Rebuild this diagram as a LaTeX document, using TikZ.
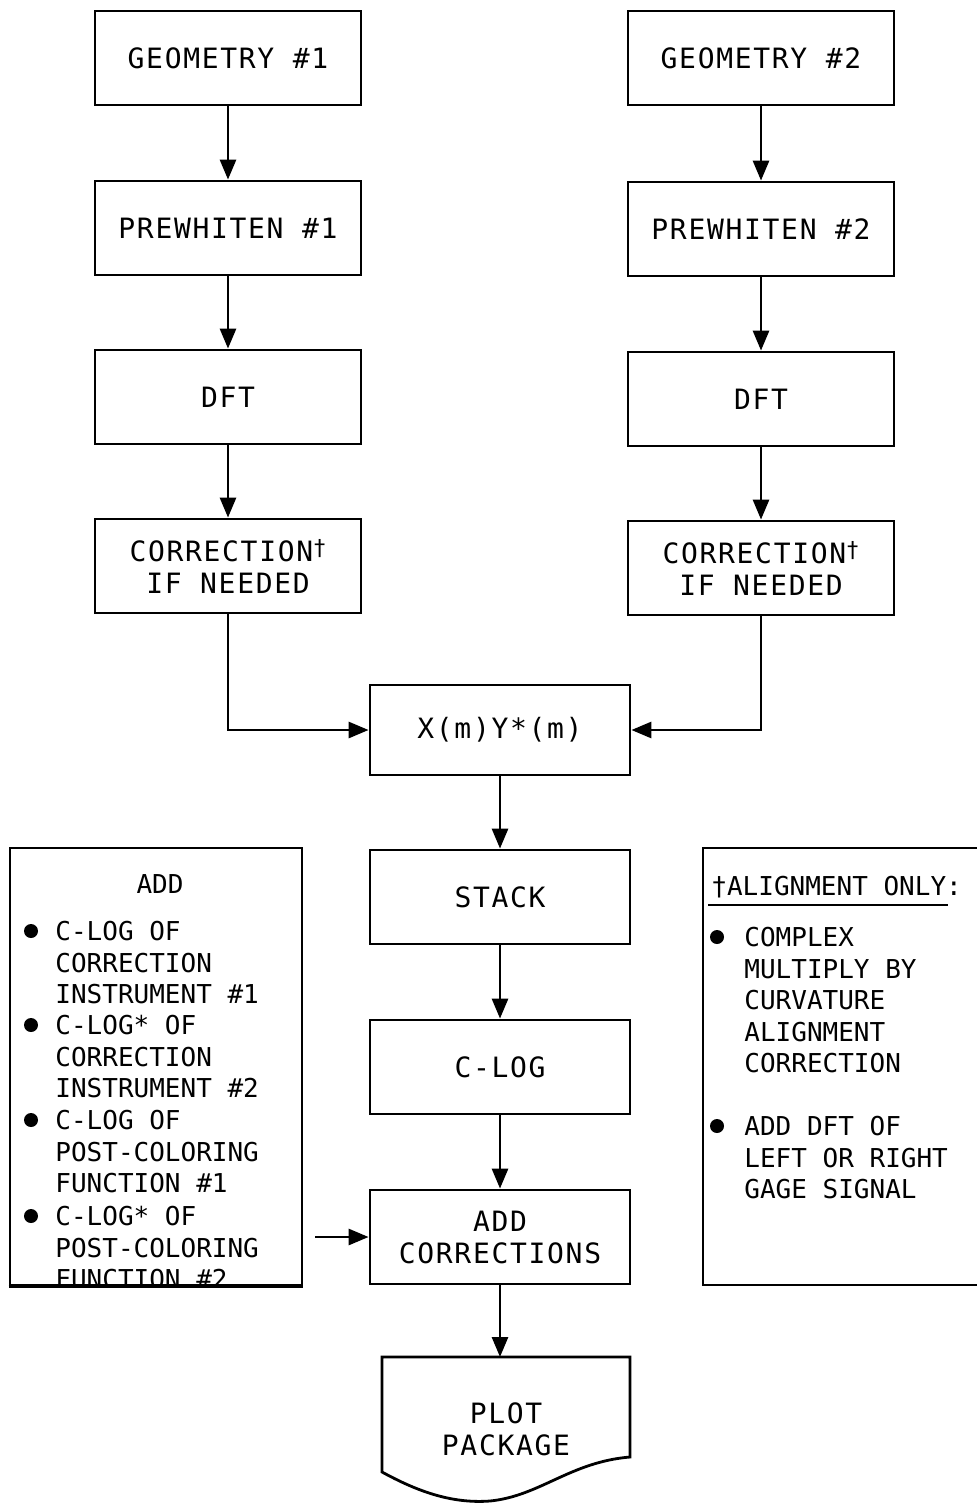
\documentclass[tikz,border=0pt]{standalone}
\usepackage{fontspec}
\usetikzlibrary{arrows.meta,positioning}
\newfontfamily\boxfont{DejaVu Sans Mono}[LetterSpace=6]
\newfontfamily\notefont{DejaVu Sans Mono}
\def\dg{\raisebox{3pt}{\fontsize{11}{11}\selectfont †}}

\begin{document}
\begin{tikzpicture}
[x=0.5pt,y=-0.5pt,
 blk/.style={draw,line width=1.4pt,minimum width=133pt,minimum height=47pt,align=center,font=\boxfont\fontsize{14}{16}\selectfont},
 mid/.style={blk,minimum width=130pt},
 side/.style={draw,line width=1.4pt,minimum height=218.5pt},
 note/.style={inner sep=0pt,align=left,anchor=north west,font=\notefont\fontsize{13}{15.75}\selectfont},
 arr/.style={line width=1.4pt,-{Triangle[length=10pt,width=8pt]}}]
\useasboundingbox (0,0) rectangle (976,1504);
% the two input chains
\node[blk] (g1) at (228,58) {GEOMETRY \#1};
\node[blk] (g2) at (761,58) {GEOMETRY \#2};
\node[blk] (pw1) at (228,228) {PREWHITEN \#1};
\node[blk] (pw2) at (761,229) {PREWHITEN \#2};
\node[blk] (dft1) at (228,397) {DFT};
\node[blk] (dft2) at (761,399) {DFT};
\node[blk] (cor1) at (228,566) {CORRECTION\dg\\IF NEEDED};
\node[blk] (cor2) at (761,568) {CORRECTION\dg\\IF NEEDED};
% middle column
\node[mid,minimum height=45pt] (xy) at (500,730) {X(m)Y*(m)};
\node[mid] (stack) at (500,897) {STACK};
\node[mid] (clog) at (500,1067) {C-LOG};
\node[mid] (addc) at (500,1237) {ADD\\CORRECTIONS};
\coordinate (plottop) at (500,1357);
\node[font=\boxfont\fontsize{14}{16}\selectfont,align=center] (plot) at (506,1429) {PLOT\\PACKAGE};
\draw[line width=1.4pt] (382,1357) -- (630,1357) -- (630,1457)
  .. controls (570,1462) and (540,1496) .. (490,1501)
  .. controls (450,1504) and (415,1490) .. (382,1472) -- cycle;
% side boxes
\node[side,minimum width=146pt] (addbox) at (156,1066.5) {};
\node[side,minimum width=141pt] (alignbox) at (844,1066.5) {};
\node[note,anchor=center] (addhead) at (160,884) {ADD};
\begin{scope}
\clip (addbox.north west) rectangle (addbox.south east);
\node[note] (a1) at (55,921) {C-LOG OF\\CORRECTION\\INSTRUMENT \#1};
\node[note] (a2) at (55,1015) {C-LOG* OF\\CORRECTION\\INSTRUMENT \#2};
\node[note] (a3) at (55,1110) {C-LOG OF\\POST-COLORING\\FUNCTION \#1};
\node[note] (a4) at (55,1206) {C-LOG* OF\\POST-COLORING\\FUNCTION \#2};
\end{scope}
\draw[line width=1.4pt] (addbox.south west) -- (addbox.south east);
\foreach \yy in {931,1025,1120,1216} \fill (31,\yy) circle[radius=7];
\node[note] (alhead) at (711,876) {†ALIGNMENT ONLY:};
\draw[line width=0.8pt] (708,905) -- (948,905);
\node[note] (b1) at (744,927) {COMPLEX\\MULTIPLY BY\\CURVATURE\\ALIGNMENT\\CORRECTION};
\node[note] (b2) at (744,1116) {ADD DFT OF\\LEFT OR RIGHT\\GAGE SIGNAL};
\foreach \yy in {937,1126} \fill (717,\yy) circle[radius=7];
% connectors
\draw[arr] (g1) -- (pw1);
\draw[arr] (pw1) -- (dft1);
\draw[arr] (dft1) -- (cor1);
\draw[arr] (g2) -- (pw2);
\draw[arr] (pw2) -- (dft2);
\draw[arr] (dft2) -- (cor2);
\draw[arr] (cor1.south) |- (xy.west);
\draw[arr] (cor2.south) |- (xy.east);
\draw[arr] (xy) -- (stack);
\draw[arr] (stack) -- (clog);
\draw[arr] (clog) -- (addc);
\draw[arr] (addc) -- (plottop);
\coordinate (fromadd) at (315,1237);
\draw[arr] (fromadd) -- (addc.west);
\end{tikzpicture}
\end{document}
